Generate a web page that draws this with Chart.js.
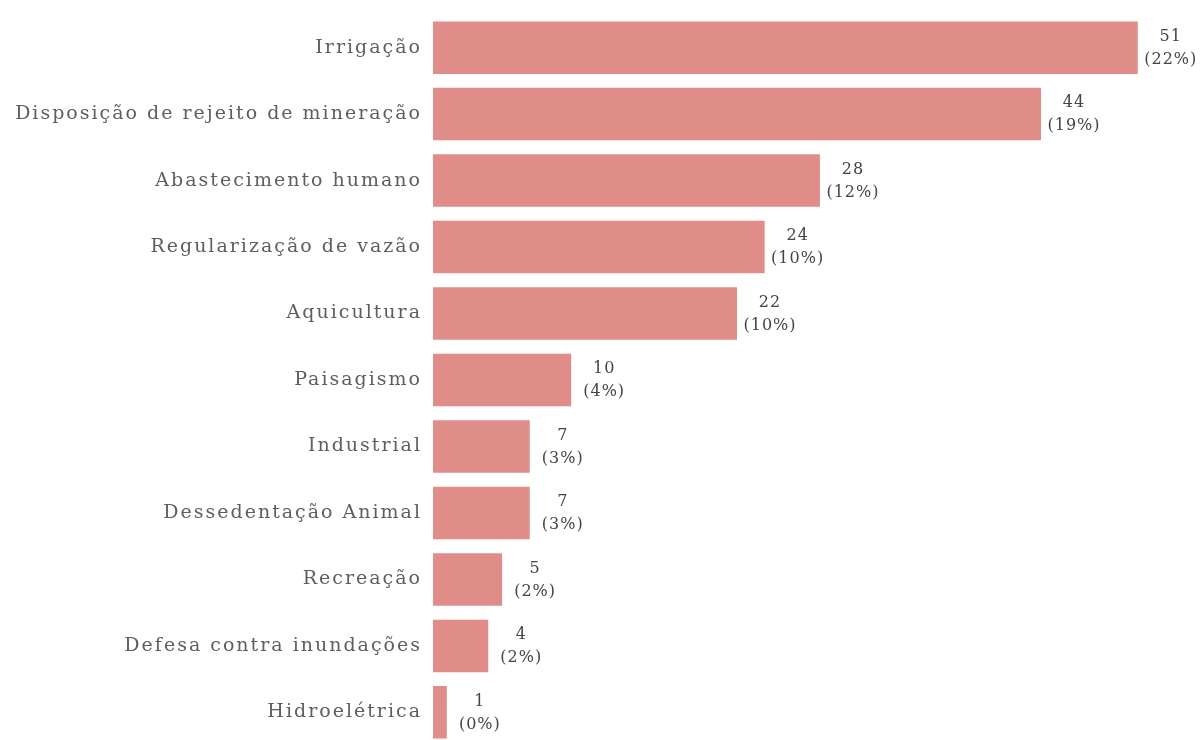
<!DOCTYPE html>
<html>
<head>
<meta charset="utf-8">
<script src="https://cdn.jsdelivr.net/npm/chart.js@4/dist/chart.umd.min.js"></script>
<style>
  html, body { margin: 0; padding: 0; background: #fff; overflow: hidden; }
  canvas { display: block; }
</style>
</head>
<body>
<canvas id="usos" width="1204" height="760"></canvas>
<script>
// Usos da água: número de barragens por finalidade
const categorias = [
  "Irrigação",
  "Disposição de rejeito de mineração",
  "Abastecimento humano",
  "Regularização de vazão",
  "Aquicultura",
  "Paisagismo",
  "Industrial",
  "Dessedentação Animal",
  "Recreação",
  "Defesa contra inundações",
  "Hidroelétrica"
];
const quantidades = [51, 44, 28, 24, 22, 10, 7, 7, 5, 4, 1];
const percentuais = ["22%", "19%", "12%", "10%", "10%", "4%", "3%", "3%", "2%", "2%", "0%"];

const corBarra = "#e08c88";
const corTexto = "#5e5e5e";
const fonteSerif = "'DejaVu Serif', 'Liberation Serif', serif";

// espaçamento entre letras para os rótulos do eixo
const espacamento = {
  id: "espacamento",
  beforeDraw(chart) { chart.ctx.letterSpacing = "2px"; },
  afterDraw(chart) { chart.ctx.letterSpacing = "0px"; }
};

// escreve valor e percentual ao lado de cada barra
const rotulosBarras = {
  id: "rotulosBarras",
  afterDatasetsDraw(chart) {
    const ctx = chart.ctx;
    const meta = chart.getDatasetMeta(0);
    ctx.save();
    ctx.letterSpacing = "1px";
    ctx.fillStyle = "#444";
    ctx.textAlign = "center";
    ctx.textBaseline = "middle";
    ctx.font = "16px " + fonteSerif;
    meta.data.forEach((bar, i) => {
      const x = bar.x + 33;
      ctx.fillText(String(quantidades[i]), x, bar.y - 11);
      ctx.fillText("(" + percentuais[i] + ")", x, bar.y + 12);
    });
    ctx.restore();
  }
};

new Chart(document.getElementById("usos"), {
  type: "bar",
  data: {
    labels: categorias,
    datasets: [{
      data: quantidades,
      backgroundColor: corBarra,
      borderWidth: 0,
      barPercentage: 0.79,
      categoryPercentage: 1
    }]
  },
  options: {
    responsive: false,
    indexAxis: "y",
    animation: false,
    layout: { padding: { top: 9, bottom: 4, left: 0, right: 11 } },
    plugins: {
      legend: { display: false },
      tooltip: { enabled: false }
    },
    scales: {
      x: {
        min: 0,
        max: 55,
        display: false
      },
      y: {
        grid: { display: false },
        border: { display: false },
        afterFit(scale) { scale.width = 433; },
        ticks: {
          color: corTexto,
          padding: 3,
          font: { family: fonteSerif, size: 19 }
        }
      }
    }
  },
  plugins: [espacamento, rotulosBarras]
});
</script>
</body>
</html>
